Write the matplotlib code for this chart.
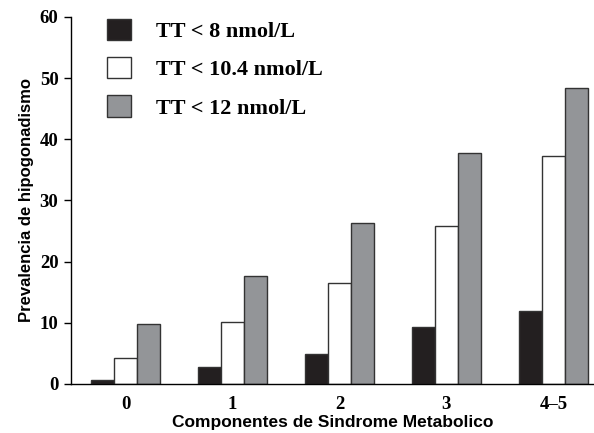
import matplotlib.pyplot as plt
import numpy as np

categorias = ["0", "1", "2", "3", "4\u20135"]
tt_8 = [0.6, 2.8, 4.9, 9.3, 11.9]
tt_10_4 = [4.2, 10.1, 16.5, 25.8, 37.3]
tt_12 = [9.8, 17.6, 26.3, 37.7, 48.4]
series = ["TT < 8 nmol/L", "TT < 10.4 nmol/L", "TT < 12 nmol/L"]

plt.rcParams["font.family"] = ["Liberation Serif", "DejaVu Serif"]
plt.rcParams["font.weight"] = "bold"

fig = plt.figure(figsize=(5.94, 4.33), dpi=100)
ax = fig.add_axes([0.1195, 0.1132, 0.8805, 0.8476])

x = np.arange(len(categorias))
w = 0.215
colores = ["#231f20", "white", "#939598"]
for i, (vals, col, lab) in enumerate(zip([tt_8, tt_10_4, tt_12], colores, series)):
    ax.bar(x + (i - 1) * w, vals, w, color=col, edgecolor="#333333",
           linewidth=1.0, label=lab)

ax.set_ylim(0, 60)
ax.set_xlim(-0.51, 4.38)
ax.set_yticks([0, 10, 20, 30, 40, 50, 60])
ax.set_xticks(x)
ax.set_xticklabels(categorias)
for s in ["top", "right"]:
    ax.spines[s].set_visible(False)
ax.spines["left"].set_linewidth(1.0)
ax.spines["bottom"].set_linewidth(1.0)
ax.tick_params(axis="y", direction="out", length=5, width=1, pad=4, labelsize=13.5)
ax.tick_params(axis="x", length=0, pad=9, labelsize=13.5)

sans = ["Liberation Sans Narrow", "Liberation Sans", "DejaVu Sans"]
ax.set_xlabel("Componentes de Sindrome Metabolico", fontfamily=sans,
              fontweight="bold", fontsize=12.5, labelpad=1)
ax.set_ylabel("Prevalencia de hipogonadismo", fontfamily=sans,
              fontweight="bold", fontsize=12, labelpad=4)

leg = ax.legend(loc="upper left", bbox_to_anchor=(0.03, 1.05), frameon=False,
                prop={"weight": "bold", "size": 16},
                handlelength=1.1, handleheight=1.1, handletextpad=1.1, labelspacing=0.68)

fig.savefig("out.png", dpi=100)
